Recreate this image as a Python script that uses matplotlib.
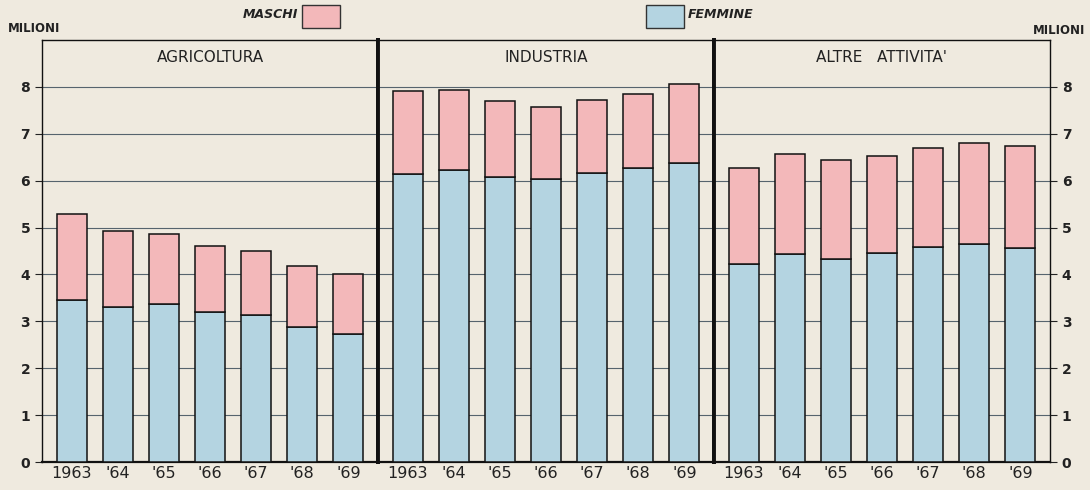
import matplotlib.pyplot as plt
from matplotlib.patches import Rectangle

anni = ["1963", "'64", "'65", "'66", "'67", "'68", "'69"]
settori = ["AGRICOLTURA", "INDUSTRIA", "ALTRE   ATTIVITA'"]

# totale occupati (milioni) e quota femmine
agr_tot = [5.29, 4.92, 4.87, 4.60, 4.50, 4.18, 4.00]
agr_fem = [3.45, 3.30, 3.36, 3.20, 3.14, 2.87, 2.74]
ind_tot = [7.91, 7.94, 7.69, 7.57, 7.73, 7.84, 8.07]
ind_fem = [6.14, 6.23, 6.07, 6.03, 6.16, 6.27, 6.38]
alt_tot = [6.27, 6.57, 6.45, 6.52, 6.69, 6.81, 6.74]
alt_fem = [4.23, 4.43, 4.34, 4.45, 4.58, 4.65, 4.57]

totali = [agr_tot, ind_tot, alt_tot]
femmine = [agr_fem, ind_fem, alt_fem]

bg = "#efeadf"
rosa = "#f3b8ba"
azzurro = "#b4d4e1"


def main():
    fig = plt.figure(figsize=(10.9, 4.9), dpi=100, facecolor=bg)
    L, R, T, B = 42 / 1090, 1050 / 1090, 1 - 40 / 490, 1 - 462 / 490
    w = (R - L) / 3
    for i in range(3):
        ax = fig.add_axes([L + i * w, B, w, T - B], facecolor=bg)
        x = list(range(len(anni)))
        tot = totali[i]
        fem = femmine[i]
        mas = [t - f for t, f in zip(tot, fem)]
        ax.bar(x, fem, width=0.65, color=azzurro, edgecolor="#111111",
               linewidth=1.1, zorder=3)
        ax.bar(x, mas, bottom=fem, width=0.65, color=rosa,
               edgecolor="#111111", linewidth=1.1, zorder=3)
        ax.set_xlim(-0.64, 6.64)
        ax.set_ylim(0, 9)
        ax.set_yticks(range(0, 9))
        for v in range(1, 9):
            ax.axhline(v, color="#56646e", lw=0.8, zorder=1)
        ax.set_xticks(x)
        ax.set_xticklabels(anni, fontsize=11.5, color="#222222")
        ax.tick_params(axis="x", length=0, pad=3)
        ax.text(0.5, 0.958, settori[i], transform=ax.transAxes,
                ha="center", va="center", fontsize=11, color="#222222")
        for s in ax.spines.values():
            s.set_color("#111111")
            s.set_linewidth(1.0)
        ax.spines["bottom"].set_linewidth(1.6)
        if i == 0:
            ax.tick_params(axis="y", left=True, right=False, labelleft=True,
                           labelright=False, length=5, labelsize=10,
                           colors="#222222")
            ax.spines["right"].set_linewidth(2.8)
        elif i == 1:
            ax.tick_params(axis="y", left=False, right=False,
                           labelleft=False, labelright=False)
            ax.spines["left"].set_linewidth(2.8)
            ax.spines["right"].set_linewidth(2.8)
        else:
            ax.tick_params(axis="y", left=False, right=True,
                           labelleft=False, labelright=True, length=5,
                           labelsize=10, colors="#222222")
            ax.spines["left"].set_linewidth(2.8)
        for lab in ax.get_yticklabels():
            lab.set_fontweight("bold")

    fig.text(8 / 1090, 1 - 28 / 490, "MILIONI", fontsize=8.5,
             fontweight="bold", color="#222222", va="center", ha="left")
    fig.text(1085 / 1090, 1 - 30 / 490, "MILIONI", fontsize=8.5,
             fontweight="bold", color="#222222", va="center", ha="right")

    # legenda
    fig.add_artist(Rectangle((302 / 1090, 1 - 28 / 490), 38 / 1090,
                             23 / 490, transform=fig.transFigure,
                             facecolor=rosa, edgecolor="#333333", lw=1.0))
    fig.text(298 / 1090, 1 - 15 / 490, "MASCHI", fontsize=9,
             style="italic", fontweight="bold", color="#222222",
             ha="right", va="center")
    fig.add_artist(Rectangle((646 / 1090, 1 - 28 / 490), 38 / 1090,
                             23 / 490, transform=fig.transFigure,
                             facecolor=azzurro, edgecolor="#333333", lw=1.0))
    fig.text(688 / 1090, 1 - 15 / 490, "FEMMINE", fontsize=9,
             style="italic", fontweight="bold", color="#222222",
             ha="left", va="center")

    fig.savefig("out.png", dpi=100, facecolor=bg)


if __name__ == "__main__":
    main()
